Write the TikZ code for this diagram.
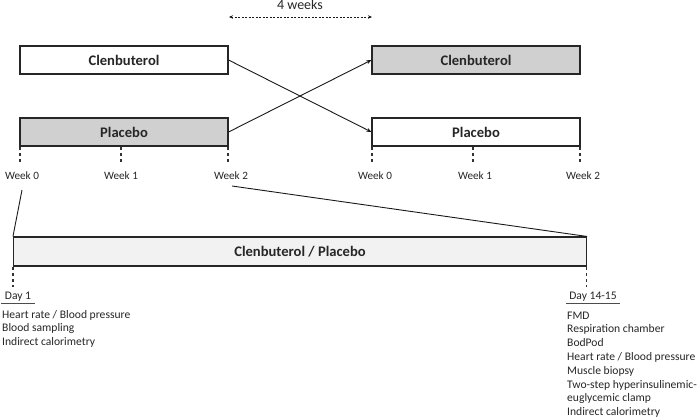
\documentclass[tikz,border=0pt]{standalone}
\usepackage{fontspec}
\setmainfont{Carlito}
\usetikzlibrary{arrows.meta}
\definecolor{boxgray}{HTML}{D0D0D0}
\definecolor{lightbox}{HTML}{F2F2F2}
\definecolor{txt}{HTML}{262626}
\tikzset{
  armbox/.style={draw=black!85, line width=1.1pt, minimum width=208pt, minimum height=28pt, inner sep=0pt, font=\fontsize{14.6}{16}\selectfont\bfseries, text=txt},
  grayarm/.style={armbox, fill=boxgray},
  whitearm/.style={armbox, fill=white},
  weeklbl/.style={font=\fontsize{11.2}{13}\selectfont, text=txt, inner sep=0pt},
  tickline/.style={draw=black!80, line width=1.1pt, dash pattern=on 3pt off 3pt},
  conn/.style={draw=black!90, line width=0.9pt},
  arr/.style={conn, -{Stealth[length=5pt,width=4pt]}},
  listtxt/.style={font=\fontsize{11.6}{13.8}\selectfont, text=txt, align=left, inner sep=0pt},
}
\begin{document}
\begin{tikzpicture}[x=1pt,y=-1pt]
\useasboundingbox (0,0) rectangle (698,418);
% arm boxes
\node[whitearm] (lc) at (124,60) {Clenbuterol};
\node[grayarm]  (lp) at (124,132) {Placebo};
\node[grayarm]  (rc) at (476,60) {Clenbuterol};
\node[whitearm] (rp) at (476,132) {Placebo};
% 4 weeks
\coordinate (wa) at (229,17);
\coordinate (wb) at (372,17);
\draw[conn, dash pattern=on 2pt off 1.5pt, line width=0.8pt, {Stealth[length=4pt,width=3.5pt]}-{Stealth[length=4pt,width=3.5pt]}] (wa) -- (wb);
\node[font=\fontsize{14}{16}\selectfont, text=txt, inner sep=0pt] (fw) at (300,5) {4 weeks};
% crossings
\draw[arr] (lc.east) -- (rp.west);
\draw[arr] (lp.east) -- (rc.west);
% ticks
\foreach \x/\n in {20/a0,121/a1,228/a2,372/b0,473/b1,580/b2}{
  \coordinate (t\n) at (\x,147);
  \coordinate (u\n) at (\x,165);
  \draw[tickline] (t\n) -- (u\n);
}
\node[weeklbl] (wk0) at (22,176) {Week 0};
\node[weeklbl] (wk1) at (121,176) {Week 1};
\node[weeklbl] (wk2) at (231,176) {Week 2};
\node[weeklbl] (wr0) at (375,176) {Week 0};
\node[weeklbl] (wr1) at (475,176) {Week 1};
\node[weeklbl] (wr2) at (583,176) {Week 2};
% big box
\node[draw=black!85, line width=1.1pt, fill=lightbox, minimum width=573pt, minimum height=29pt, inner sep=0pt, font=\fontsize{14.6}{16}\selectfont\bfseries, text=txt] (big) at (300,251.5) {Clenbuterol / Placebo};
\coordinate (z0) at (22,190);
\coordinate (z2) at (232,186);
\draw[conn] (z0) -- (big.north west);
\draw[conn] (z2) -- (big.north east);
% ticks under big box
\coordinate (d1a) at (13,267);
\coordinate (d1b) at (13,287);
\coordinate (d2a) at (586.5,267);
\coordinate (d2b) at (586.5,287);
\draw[tickline] (d1a) -- (d1b);
\draw[tickline] (d2a) -- (d2b);
% day labels
\node[weeklbl, font=\fontsize{11.6}{13}\selectfont] (day1) at (18,297) {Day 1};
\coordinate (ul1a) at (1,303.5);
\coordinate (ul1b) at (35,303.5);
\draw[draw=black!70, line width=0.6pt] (ul1a) -- (ul1b);
\node[weeklbl, font=\fontsize{11.6}{13}\selectfont] (day14) at (593,297) {Day 14-15};
\coordinate (ul2a) at (566,303.5);
\coordinate (ul2b) at (620,303.5);
\draw[draw=black!70, line width=0.6pt] (ul2a) -- (ul2b);
% lists (base anchor = last line's baseline)
\node[listtxt, anchor=base west] (l1) at (2,345.6) {Heart rate / Blood pressure\\Blood sampling\\Indirect calorimetry};
\node[listtxt, anchor=base west] (l2) at (567,415.6) {FMD\\Respiration chamber\\BodPod\\Heart rate / Blood pressure\\Muscle biopsy\\Two-step hyperinsulinemic-\\euglycemic clamp\\Indirect calorimetry};
\end{tikzpicture}
\end{document}
